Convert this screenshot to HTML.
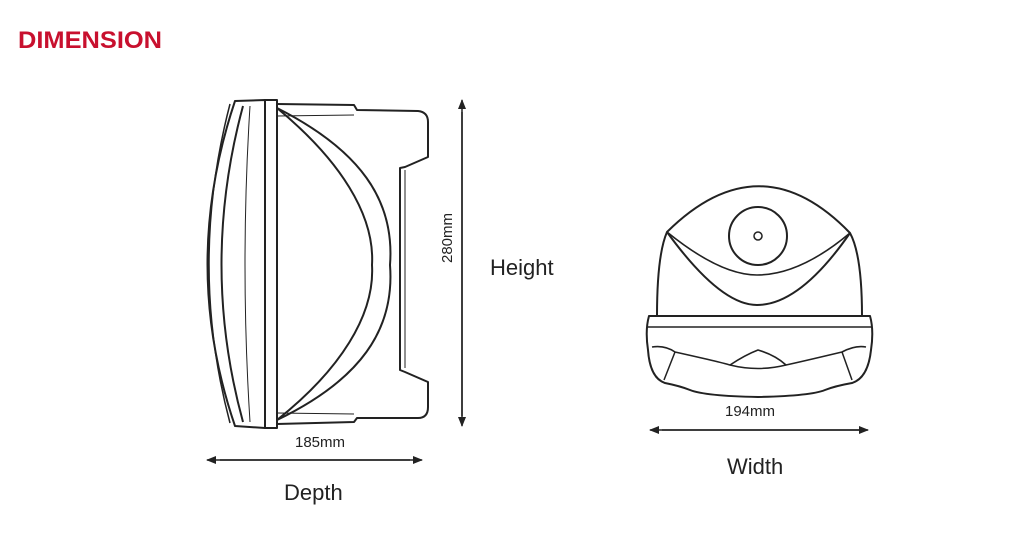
<!DOCTYPE html>
<html><head><style>body{margin:0;background:#fff}svg{display:block}</style></head><body>
<svg width="1020" height="544" viewBox="0 0 1020 544" xmlns="http://www.w3.org/2000/svg" font-family="Liberation Sans, sans-serif">
<defs><marker id="a" markerWidth="10" markerHeight="8" refX="9" refY="4" orient="auto" markerUnits="userSpaceOnUse"><path d="M0,0 L10,4 L0,8 Z" fill="#222"/></marker></defs>
<text x="18" y="48" font-size="24" font-weight="bold" fill="#c8102e" textLength="144" lengthAdjust="spacingAndGlyphs">DIMENSION</text>
<g fill="none" stroke="#222" stroke-width="2" stroke-linejoin="round">
<!-- side view -->
<path d="M235,101 L265,100 L265,428 L235,426 Q180,265 235,101 Z"/>
<path d="M243,106 Q200,265 243,422"/>
<path d="M230,104 Q188,265 230,423" stroke-width="1.5"/>
<path d="M250,106 Q240,265 250,422" stroke-width="1"/>
<rect x="265" y="100" width="12" height="328"/>
<path d="M277,104 L354,105 L357,110 L418,111 Q428,112 428,122 L428,157 L405,167 L400,168 L400,370 L405,372 L428,382 L428,407 Q428,418 418,418 L357,418 L354,422 L277,424"/>
<path d="M277,108 C360,150 395,200 390,265 C395,330 360,380 277,420"/>
<path d="M277,108 C340,160 375,215 372,265 C375,315 340,370 277,420"/>
<path d="M277,116 L354,115" stroke-width="1"/><path d="M277,413 L354,414" stroke-width="1"/>
<path d="M405,170 L405,368" stroke-width="1"/>
<line x1="462" y1="112" x2="462" y2="426" stroke-width="1.5" marker-end="url(#a)"/>
<line x1="462" y1="416" x2="462" y2="100" stroke-width="1.5" marker-end="url(#a)"/>
<line x1="220" y1="460" x2="422" y2="460" stroke-width="1.5" marker-end="url(#a)"/>
<line x1="410" y1="460" x2="207" y2="460" stroke-width="1.5" marker-end="url(#a)"/>
<!-- front view -->
<path d="M667,232 Q760,140 850,233 Q862,255 862,316 L657,316 Q657,255 667,232 Z"/>
<path d="M667,232 Q720,305 757,305 Q800,305 850,233"/>
<path d="M667,232 Q720,275 757,275 Q800,275 850,233" stroke-width="1.6"/>
<circle cx="758" cy="236" r="29"/>
<circle cx="758" cy="236" r="4" stroke-width="1.5"/>
<path d="M649,316 L870,316 Q874,330 871,350 Q868,378 852,383 Q835,386 825,390 Q810,396 758,397 Q705,396 690,390 Q680,386 665,383 Q650,378 648,350 Q645,330 649,316 Z"/>
<line x1="648" y1="327" x2="871" y2="327" stroke-width="1.5"/>
<path d="M652,347 Q665,345 675,352 Q720,362 730,365 Q745,355 758,350 Q775,355 786,365 Q800,362 842,352 Q855,345 866,347" stroke-width="1.6"/>
<path d="M730,365 Q758,372 786,365" stroke-width="1.5"/>
<path d="M675,352 L664,380 M842,352 L852,380" stroke-width="1.5"/>
<line x1="662" y1="430" x2="868" y2="430" stroke-width="1.5" marker-end="url(#a)"/>
<line x1="860" y1="430" x2="650" y2="430" stroke-width="1.5" marker-end="url(#a)"/>
</g>
<text transform="translate(452,238) rotate(-90)" text-anchor="middle" font-size="15" fill="#222">280mm</text>
<text x="490" y="275" font-size="22" fill="#222">Height</text>
<text x="295" y="447" font-size="15" fill="#222">185mm</text>
<text x="284" y="500" font-size="22" fill="#222">Depth</text>
<text x="725" y="416" font-size="15" fill="#222">194mm</text>
<text x="727" y="474" font-size="22" fill="#222">Width</text>
</svg>
</body></html>
